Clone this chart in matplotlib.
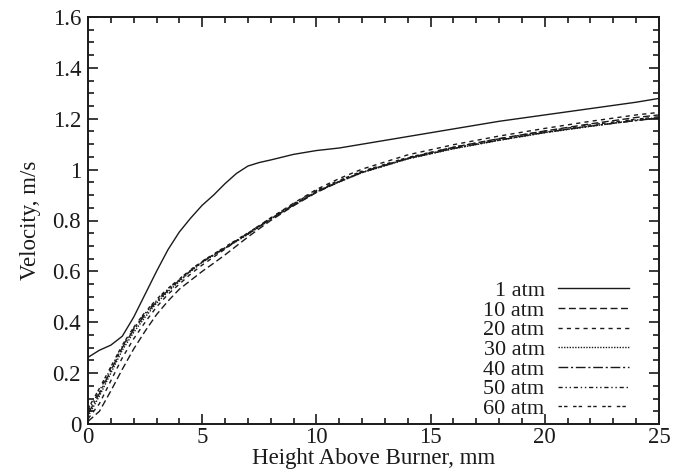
import matplotlib
matplotlib.use("Agg")
import matplotlib.pyplot as plt
from matplotlib.ticker import MultipleLocator, FuncFormatter

plt.rcParams['font.family'] = ['Liberation Serif', 'DejaVu Serif']

# Height above burner, mm
x = [0, 0.5, 1, 1.5, 2, 2.5, 3, 3.5, 4, 4.5, 5, 5.5, 6, 6.5, 7, 7.5, 8, 9, 10,
     11, 12, 14, 16, 18, 20, 22, 24, 25]

v_1atm = [0.262, 0.29, 0.31, 0.345, 0.42, 0.51, 0.60, 0.685, 0.755, 0.81, 0.86,
          0.90, 0.945, 0.985, 1.014, 1.028, 1.038, 1.06, 1.075, 1.085, 1.10, 1.13,
          1.16, 1.19, 1.215, 1.24, 1.265, 1.28]
v_10atm = [0.01, 0.05, 0.13, 0.215, 0.295, 0.365, 0.43, 0.483, 0.53, 0.565, 0.60,
           0.632, 0.665, 0.70, 0.735, 0.768, 0.80, 0.858, 0.91, 0.952, 0.99, 1.045,
           1.088, 1.122, 1.152, 1.18, 1.205, 1.215]
v_20atm = [0.02, 0.08, 0.17, 0.26, 0.335, 0.40, 0.46, 0.51, 0.55, 0.59, 0.625,
           0.656, 0.688, 0.72, 0.75, 0.78, 0.81, 0.868, 0.922, 0.965, 1.002, 1.058,
           1.098, 1.132, 1.162, 1.19, 1.215, 1.225]
v_30atm = [0.03, 0.11, 0.20, 0.29, 0.36, 0.42, 0.475, 0.52, 0.56, 0.60, 0.635,
           0.663, 0.69, 0.718, 0.745, 0.775, 0.805, 0.86, 0.912, 0.952, 0.988, 1.042,
           1.082, 1.115, 1.145, 1.17, 1.195, 1.205]
v_40atm = [0.04, 0.12, 0.21, 0.30, 0.37, 0.43, 0.48, 0.525, 0.565, 0.603, 0.637,
           0.665, 0.692, 0.72, 0.747, 0.776, 0.806, 0.861, 0.913, 0.953, 0.989, 1.043,
           1.083, 1.116, 1.146, 1.171, 1.193, 1.203]
v_50atm = [0.05, 0.13, 0.22, 0.305, 0.375, 0.435, 0.485, 0.53, 0.568, 0.605, 0.638,
           0.666, 0.693, 0.721, 0.748, 0.777, 0.807, 0.862, 0.914, 0.954, 0.99, 1.044,
           1.084, 1.117, 1.147, 1.172, 1.193, 1.203]
v_60atm = [0.06, 0.14, 0.225, 0.31, 0.38, 0.44, 0.49, 0.533, 0.57, 0.607, 0.64,
           0.668, 0.696, 0.724, 0.751, 0.78, 0.81, 0.866, 0.918, 0.958, 0.994, 1.048,
           1.088, 1.121, 1.151, 1.176, 1.198, 1.208]

labels = ['1 atm', '10 atm', '20 atm', '30 atm', '40 atm', '50 atm', '60 atm']
series = [v_1atm, v_10atm, v_20atm, v_30atm, v_40atm, v_50atm, v_60atm]
styles = ['-', (0, (5, 2.5)), (0, (3, 3)), (0, (1, 1)), (0, (7, 2, 1.5, 2)),
          (0, (3, 2, 1, 2, 1, 2)), (0, (2.5, 1.5, 2.5, 4))]

fig = plt.figure(figsize=(6.87, 4.74), dpi=100)
ax = fig.add_axes([88/687, 1-424/474, (659-88)/687, (424-17)/474])

for y, lab, ls in zip(series, labels, styles):
    ax.plot(x, y, color='#1a1a1a', linestyle=ls, linewidth=1.0, label=lab)

ax.set_xlim(0, 25)
ax.set_ylim(0, 1.6)
ax.xaxis.set_major_locator(MultipleLocator(5))
ax.xaxis.set_minor_locator(MultipleLocator(1))
ax.yaxis.set_major_locator(MultipleLocator(0.2))
ax.yaxis.set_minor_locator(MultipleLocator(0.05))
ax.yaxis.set_major_formatter(FuncFormatter(lambda v, p: f"{v:g}"))
ax.tick_params(which='both', direction='in', top=True, right=True, labelsize=16.5,
               width=1.2, colors='#1a1a1a')
ax.tick_params(which='major', length=7)
ax.tick_params(which='minor', length=4)
ax.tick_params(axis='x', which='major', pad=2)
ax.tick_params(axis='y', which='major', pad=5)
for s in ax.spines.values():
    s.set_linewidth(1.4)
    s.set_color('#1a1a1a')

ax.set_xlabel('Height Above Burner, mm', fontsize=16.5, labelpad=0, color='#1a1a1a')
ax.set_ylabel('Velocity, m/s', fontsize=16.5, labelpad=8, color='#1a1a1a')

leg = ax.legend(loc='lower right', frameon=False, markerfirst=False, fontsize=16,
                handlelength=3.2, handletextpad=0.6, labelspacing=-0.04,
                borderaxespad=0, borderpad=0, bbox_to_anchor=(0.9475, 0.012))
for t in leg.get_texts():
    t.set_color('#1a1a1a')

fig.savefig('out.png', dpi=100)
